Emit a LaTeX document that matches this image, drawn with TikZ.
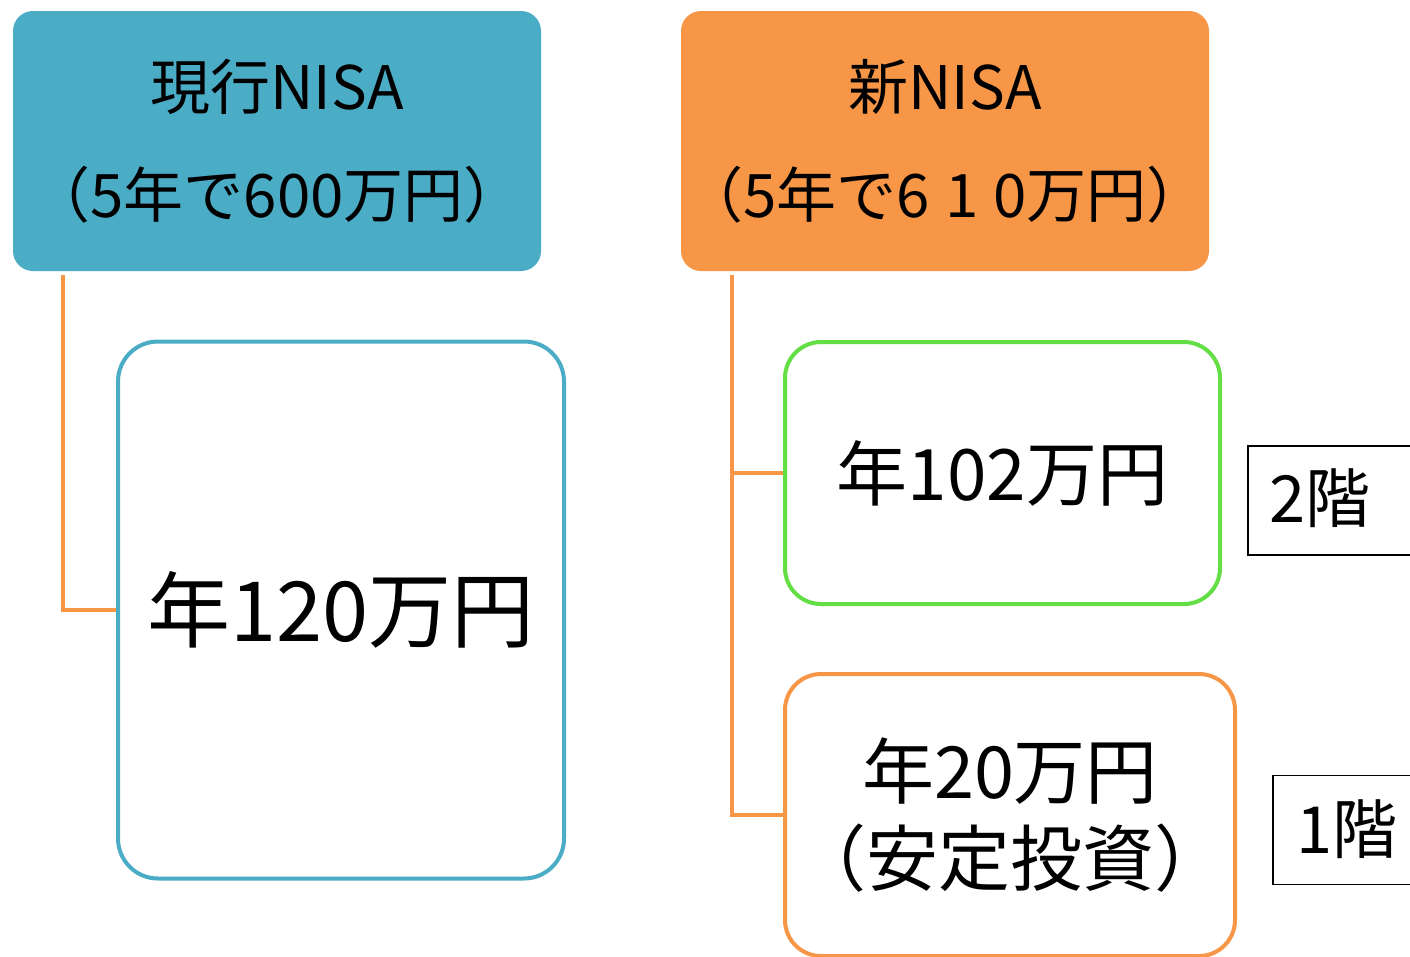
\documentclass[tikz,border=0pt]{standalone}
\usepackage{fontspec}
\setmainfont{Noto Sans CJK JP}
\definecolor{teal1}{HTML}{4BACC6}
\definecolor{orange1}{HTML}{F79646}
\definecolor{green1}{HTML}{63DE45}
\begin{document}
\begin{tikzpicture}[x=1pt,y=-1pt,
  header/.style={rounded corners=20pt, inner sep=0pt, align=center, text=black},
  card/.style={draw, line width=4pt, fill=white, rounded corners=36pt, inner sep=0pt, align=center},
  floor/.style={draw=black, line width=1.6pt, anchor=west, inner xsep=22pt, inner ysep=0pt, minimum height=109pt, text width=160pt, align=left, font=\fontsize{65}{67}\selectfont},
  conn/.style={draw=orange1, line width=4pt}]
\useasboundingbox (0,0) rectangle (1410,956);
\clip (0,0) rectangle (1410,956);
\node[header, fill=teal1, minimum width=528pt, minimum height=260pt,
  font=\fontsize{60}{108}\selectfont] (h1) at (277,141) {現行NISA\\（5年で600万円）};
\node[header, fill=orange1, minimum width=528pt, minimum height=260pt,
  font=\fontsize{60}{108}\selectfont] (h2) at (945,141) {新NISA\\（5年で6\kern15pt 1\kern15pt 0万円）};
\node[card, draw=teal1, minimum width=446pt, minimum height=537pt, rounded corners=40pt,
  font=\fontsize{83}{90}\selectfont] (big) at (341,610) {年120万円};
\node[card, draw=green1, minimum width=435pt, minimum height=262pt,
  font=\fontsize{71}{80}\selectfont] (g) at (1002.5,473) {年102万円};
\node[card, draw=orange1, minimum width=450pt, minimum height=282pt,
  font=\fontsize{72}{87}\selectfont] (o) at (1010,815) {年20万円\\（安定投資）};
\node[floor] (f2) at (1247,500.5) {\raisebox{9pt}{2階}};
\node[floor, inner xsep=24pt] (f1) at (1272,830) {\raisebox{7pt}{1階}};
\draw[conn] ([xshift=50pt,yshift=-4pt]h1.south west) |- (big.west);
\draw[conn] ([xshift=51pt,yshift=-4pt]h2.south west) |- (g.west);
\draw[conn] ([xshift=51pt,yshift=-4pt]h2.south west) |- (o.west);
\end{tikzpicture}
\end{document}
